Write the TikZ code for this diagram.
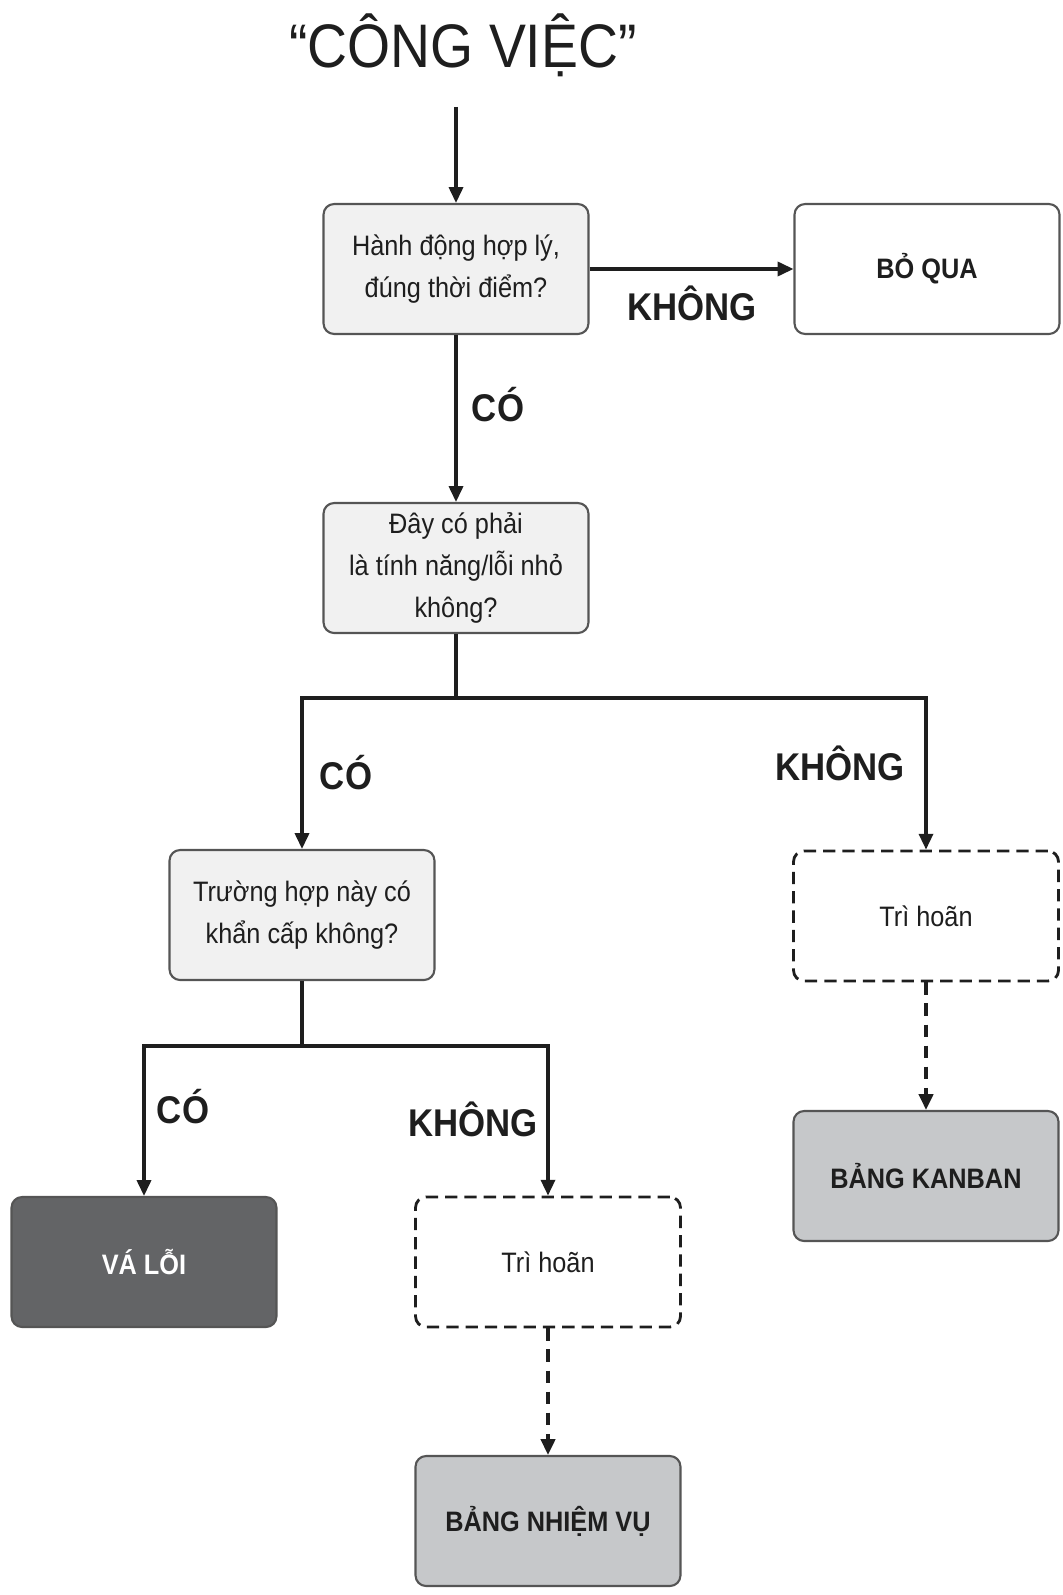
\documentclass[tikz,border=0pt]{standalone}
\usepackage{fontspec}
\setmainfont[FakeStretch=0.9]{Liberation Sans}
\usetikzlibrary{arrows.meta}
\definecolor{qfill}{HTML}{F1F1F1}
\definecolor{darkfill}{HTML}{636466}
\definecolor{greyfill}{HTML}{C6C8CA}
\definecolor{edgecol}{HTML}{555555}
\definecolor{inkcol}{HTML}{1E1E1E}
\tikzset{
  box/.style={draw=edgecol, line width=1.2pt, rounded corners=6pt, minimum width=5.3cm,
    minimum height=2.6cm, align=center, text=inkcol, font=\fontsize{16}{24}\selectfont},
  question/.style={box, fill=qfill},
  endbox/.style={box, font=\fontsize{16}{24}\selectfont\bfseries},
  waitbox/.style={box, draw=inkcol, line width=1.6pt, dash pattern=on 7pt off 4pt},
  arr/.style={line width=1.8pt, draw=inkcol, -{Triangle[width=8pt,length=9pt]}},
  dasharr/.style={arr, line width=2.2pt, dash pattern=on 7pt off 5pt},
  answer/.style={font=\fontsize{22}{26}\selectfont\bfseries, text=inkcol},
}
\begin{document}
\begin{tikzpicture}[x=0.02cm, y=-0.02cm]
    \useasboundingbox (0,0) rectangle (1062,1595);

    % Title and entry
    \node[font=\fontsize{35}{40}\selectfont, text=inkcol] (title) at (463,45) {“CÔNG VIỆC”};
    \coordinate (entry) at (456,107);

    % Questions
    \node[question] (q1) at (456,269) {Hành động hợp lý,\\đúng thời điểm?};
    \node[question] (q2) at (456,568) {Đây có phải\\là tính năng/lỗi nhỏ\\không?};
    \node[question] (q3) at (302,915) {Trường hợp này có\\khẩn cấp không?};

    % Outcomes
    \node[endbox] (skip) at (927,269) {BỎ QUA};
    \node[waitbox] (delayR) at (926,916) {Trì hoãn};
    \node[endbox, fill=greyfill] (kanban) at (926,1176) {BẢNG KANBAN};
    \node[endbox, fill=darkfill, text=white] (fix) at (144,1262) {VÁ LỖI};
    \node[waitbox] (delayL) at (548,1262) {Trì hoãn};
    \node[endbox, fill=greyfill] (tasks) at (548,1521) {BẢNG NHIỆM VỤ};

    % Connectors
    \draw[arr] (entry) -- (q1);
    \draw[arr] (q1) -- (skip);
    \draw[arr] (q1) -- (q2);
    \draw[arr] (q2.south) -- ++(0,64) -| (q3.north);
    \draw[arr] (q2.south) -- ++(0,64) -| (delayR.north);
    \draw[arr] (q3.south) -- ++(0,65) -| (fix.north);
    \draw[arr] (q3.south) -- ++(0,65) -| (delayL.north);
    \draw[dasharr] (delayR) -- (kanban);
    \draw[dasharr] (delayL) -- (tasks);

    % Answers
    \node[answer] (no1) at (692,303) {KHÔNG};
    \node[answer] (yes1) at (498,405) {CÓ};
    \node[answer] (yes2) at (346,773) {CÓ};
    \node[answer] (no2) at (840,763) {KHÔNG};
    \node[answer] (yes3) at (183,1107) {CÓ};
    \node[answer] (no3) at (473,1119) {KHÔNG};
\end{tikzpicture}
\end{document}
